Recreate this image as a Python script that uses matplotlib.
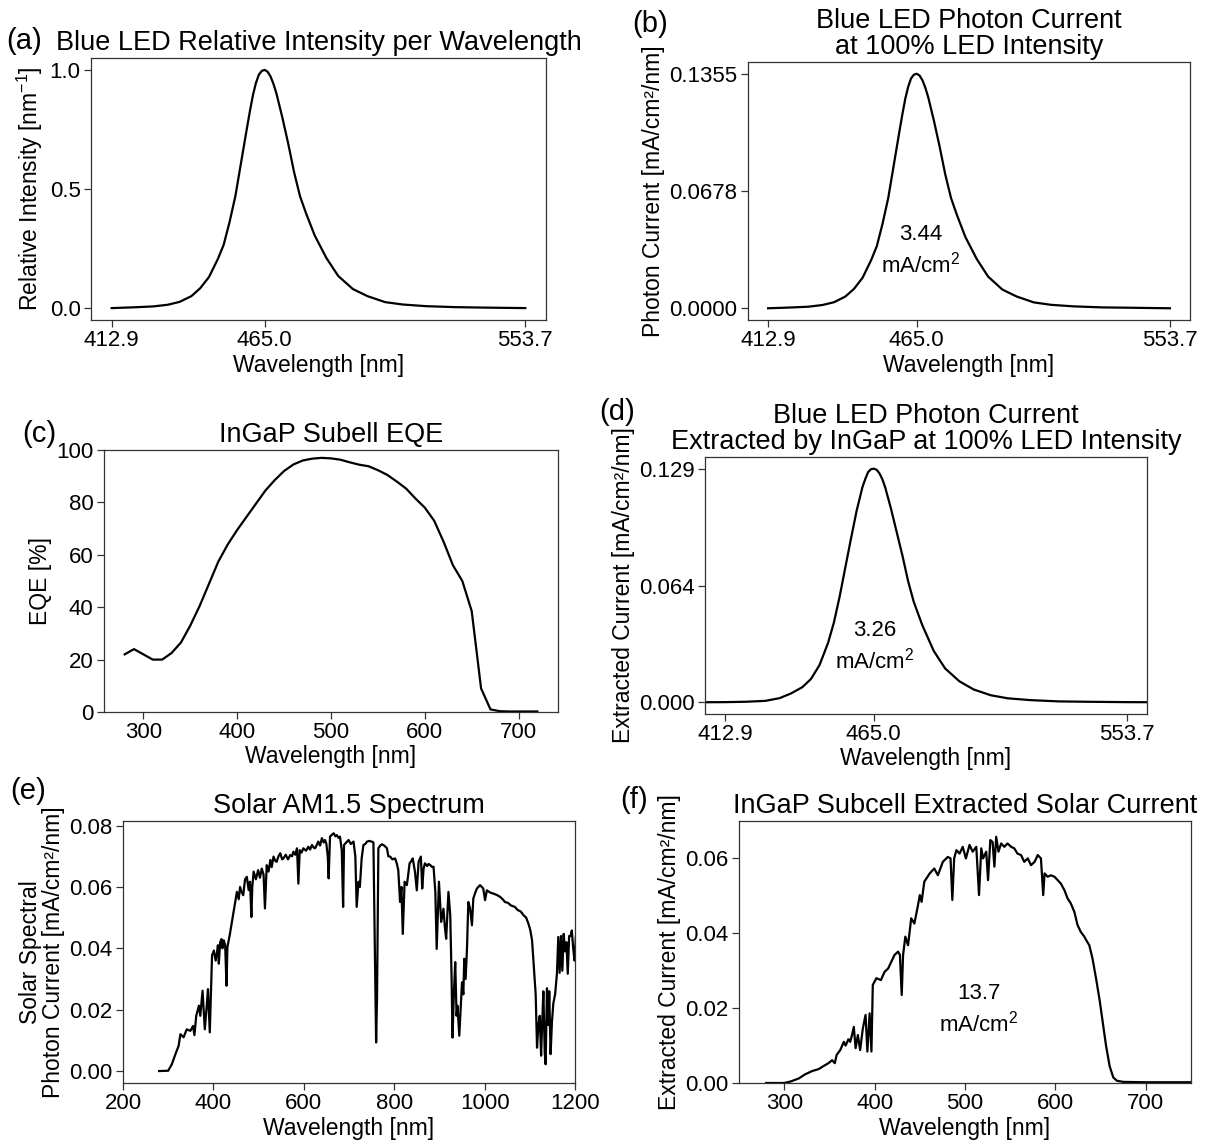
import matplotlib
matplotlib.use("Agg")
import matplotlib.pyplot as plt

plt.rcParams['font.family'] = ['Liberation Sans', 'DejaVu Sans']
plt.rcParams['mathtext.fontset'] = 'custom'
plt.rcParams['mathtext.rm'] = 'Liberation Sans'
plt.rcParams['mathtext.it'] = 'Liberation Sans'
plt.rcParams['axes.linewidth'] = 0.9

# ---------------- data ----------------
# (a)/(b) Blue LED spectrum
led_wl = [412.9, 420, 427, 432, 436, 440, 443, 446, 449, 451, 453, 455, 457, 459, 460, 461, 462,
          463, 464, 465, 466, 467, 468, 469, 470, 471, 473, 475, 477, 479, 482, 486, 490, 495,
          500, 506, 512, 520, 530, 540, 553.7]
led_rel = [0.000, 0.003, 0.007, 0.014, 0.026, 0.050, 0.083, 0.130, 0.205, 0.265, 0.360, 0.470,
           0.615, 0.760, 0.830, 0.895, 0.945, 0.980, 0.996, 1.000, 0.992, 0.972, 0.940, 0.900,
           0.850, 0.800, 0.690, 0.570, 0.470, 0.400, 0.305, 0.210, 0.135, 0.080, 0.050, 0.025,
           0.015, 0.008, 0.004, 0.002, 0.000]
led_photon = [0.0000, 0.0004, 0.0009, 0.0019, 0.0035, 0.0068, 0.0112, 0.0176, 0.0278, 0.0359,
              0.0488, 0.0637, 0.0833, 0.1030, 0.1125, 0.1213, 0.1280, 0.1328, 0.1350, 0.1355,
              0.1344, 0.1317, 0.1274, 0.1220, 0.1152, 0.1084, 0.0935, 0.0772, 0.0637, 0.0542,
              0.0413, 0.0285, 0.0183, 0.0108, 0.0068, 0.0034, 0.0020, 0.0011, 0.0005, 0.0003,
              0.0000]
led_ticks = [412.9, 465.0, 553.7]
led_ticklabels = ['412.9', '465.0', '553.7']
rel_yticks = [0.0, 0.5, 1.0]
rel_yticklabels = ['0.0', '0.5', '1.0']
photon_yticks = [0.0, 0.0678, 0.1355]
photon_yticklabels = ['0.0000', '0.0678', '0.1355']
photon_total = '3.44\nmA/cm$^2$'

# (c) InGaP EQE
eqe_wl = [280, 290, 300, 310, 320, 330, 340, 350, 360, 370, 380, 390, 400, 410, 420, 430, 440,
          450, 460, 470, 480, 490, 500, 510, 520, 530, 540, 550, 560, 570, 580, 590, 600, 610,
          620, 630, 640, 650, 660, 670, 680, 690, 700, 710, 720]
eqe_val = [22, 24, 22, 20, 20, 22.5, 26.5, 33, 40.5, 49, 57.5, 64, 69.5, 74.5, 79.5, 84.5, 88.5,
           92, 94.5, 96, 96.7, 97, 96.8, 96.3, 95.3, 94.4, 93.8, 92.3, 90.5, 88, 85.3, 81.5, 78,
           73, 65, 56, 50, 38.5, 9, 1, 0.3, 0.2, 0.2, 0.2, 0.2]

# (d) LED current extracted by InGaP
ext_wl = [400, 412.9, 420, 427, 432, 436, 440, 443, 446, 449, 451, 453, 455, 457, 459, 460, 461,
          462, 463, 464, 465, 466, 467, 468, 469, 470, 471, 473, 475, 477, 479, 482, 486, 490,
          495, 500, 506, 512, 520, 530, 540, 553.7, 570]
ext_val = [0.0000, 0.0001, 0.0003, 0.0008, 0.0023, 0.0049, 0.0084, 0.0129, 0.0206, 0.0329,
           0.0439, 0.0581, 0.0742, 0.0903, 0.1058, 0.1122, 0.1187, 0.1232, 0.1271, 0.1287,
           0.1290, 0.1284, 0.1264, 0.1232, 0.1187, 0.1129, 0.1071, 0.0942, 0.0813, 0.0671,
           0.0555, 0.0426, 0.0284, 0.0187, 0.0116, 0.0071, 0.0039, 0.0022, 0.0012, 0.0005,
           0.0003, 0.0001, 0.0000]
ext_yticks = [0.0, 0.0645, 0.129]
ext_yticklabels = ['0.000', '0.064', '0.129']
ext_total = '3.26\nmA/cm$^2$'

# (e) Solar AM1.5 photon current
sun_wl = [280, 300, 308, 316, 323, 327, 334, 341, 349, 355, 358, 362, 368, 371, 376, 381, 385,
          388, 392, 395, 397, 401, 405, 408, 410, 412, 415, 418, 420, 423, 426, 429, 431, 436,
          441, 446, 452, 456, 459, 462, 466, 470, 474, 478, 481, 484, 486, 489, 494, 499, 503,
          507, 511, 514, 518, 522, 526, 529, 533, 537, 540, 544, 548, 552, 555, 560, 565, 570,
          574, 577, 581, 585, 588, 591, 595, 599, 605, 610, 614, 618, 622, 625, 629, 632, 636,
          640, 644, 647, 650, 653, 655, 658, 662, 666, 670, 673, 677, 680, 684, 687, 689, 694,
          699, 704, 710, 714, 717, 721, 724, 728, 732, 736, 740, 745, 750, 754, 758, 760, 762,
          765, 769, 773, 778, 784, 787, 791, 796, 802, 806, 809, 813, 816, 819, 823, 828, 831,
          834, 838, 841, 846, 850, 854, 859, 862, 865, 868, 873, 876, 880, 884, 887, 891, 894,
          899, 904, 909, 912, 915, 920, 924, 927, 929, 932, 935, 938, 940, 944, 947, 950, 953,
          955, 958, 961, 964, 968, 972, 975, 979, 983, 990, 994, 997, 1001, 1005, 1012, 1020,
          1027, 1034, 1040, 1045, 1052, 1058, 1067, 1073, 1080, 1086, 1092, 1097, 1101, 1105,
          1109, 1113, 1116, 1119, 1122, 1125, 1127, 1130, 1133, 1135, 1138, 1141, 1143, 1146,
          1149, 1152, 1156, 1160, 1163, 1166, 1169, 1172, 1175, 1178, 1181, 1184, 1187, 1190,
          1193, 1196, 1199, 1202, 1206]
sun_val = [0.0000, 0.0001, 0.0022, 0.0055, 0.0082, 0.0120, 0.0110, 0.0136, 0.0131, 0.0147,
           0.0117, 0.0180, 0.0213, 0.0180, 0.0262, 0.0136, 0.0207, 0.0267, 0.0126, 0.0273,
           0.0377, 0.0393, 0.0360, 0.0387, 0.0410, 0.0350, 0.0420, 0.0430, 0.0400, 0.0426,
           0.0410, 0.0278, 0.0404, 0.0442, 0.0486, 0.0529, 0.0584, 0.0560, 0.0600, 0.0585,
           0.0573, 0.0625, 0.0633, 0.0590, 0.0617, 0.0502, 0.0600, 0.0650, 0.0625, 0.0655,
           0.0630, 0.0660, 0.0640, 0.0530, 0.0671, 0.0650, 0.0688, 0.0665, 0.0699, 0.0685,
           0.0682, 0.0700, 0.0710, 0.0690, 0.0693, 0.0705, 0.0690, 0.0704, 0.0700, 0.0715,
           0.0705, 0.0726, 0.0611, 0.0720, 0.0712, 0.0726, 0.0718, 0.0731, 0.0722, 0.0737,
           0.0728, 0.0726, 0.0738, 0.0748, 0.0735, 0.0759, 0.0745, 0.0753, 0.0740, 0.0700,
           0.0628, 0.0764, 0.0770, 0.0775, 0.0765, 0.0769, 0.0760, 0.0764, 0.0720, 0.0535,
           0.0737, 0.0745, 0.0753, 0.0740, 0.0748, 0.0700, 0.0535, 0.0617, 0.0600, 0.0693,
           0.0737, 0.0740, 0.0748, 0.0750, 0.0748, 0.0745, 0.0300, 0.0093, 0.0235, 0.0726,
           0.0735, 0.0739, 0.0735, 0.0726, 0.0700, 0.0699, 0.0690, 0.0693, 0.0675, 0.0655,
           0.0551, 0.0600, 0.0447, 0.0617, 0.0606, 0.0640, 0.0677, 0.0685, 0.0693, 0.0649,
           0.0589, 0.0682, 0.0699, 0.0595, 0.0660, 0.0677, 0.0668, 0.0675, 0.0671, 0.0665,
           0.0666, 0.0584, 0.0398, 0.0617, 0.0486, 0.0529, 0.0470, 0.0431, 0.0584, 0.0508,
           0.0300, 0.0109, 0.0250, 0.0355, 0.0180, 0.0213, 0.0115, 0.0200, 0.0289, 0.0250,
           0.0366, 0.0300, 0.0398, 0.0551, 0.0529, 0.0475, 0.0562, 0.0580, 0.0595, 0.0606,
           0.0600, 0.0595, 0.0557, 0.0589, 0.0582, 0.0578, 0.0574, 0.0568, 0.0560, 0.0551,
           0.0548, 0.0540, 0.0535, 0.0525, 0.0520, 0.0508, 0.0500, 0.0480, 0.0460, 0.0426,
           0.0340, 0.0250, 0.0076, 0.0150, 0.0180, 0.0050, 0.0140, 0.0260, 0.0060, 0.0022,
           0.0270, 0.0150, 0.0260, 0.0055, 0.0160, 0.0220, 0.0250, 0.0317, 0.0437, 0.0320,
           0.0440, 0.0327, 0.0447, 0.0390, 0.0420, 0.0317, 0.0440, 0.0440, 0.0458, 0.0400,
           0.0360, 0.0440, 0.0450]

# (f) InGaP extracted solar current
cell_wl = [280, 300, 307, 316, 323, 331, 338, 344, 349, 353, 356, 358, 362, 366, 368, 371, 373,
           375, 377, 379, 381.5, 384, 387, 390, 392, 394.5, 396.5, 398, 402, 407, 411, 415,
           418.5, 422, 426, 428, 430, 431.5, 434, 437, 440.5, 444, 448, 450, 452, 455, 461, 466,
           470, 475.5, 481, 484, 486, 488, 490.5, 494, 497.5, 501, 505, 508.5, 512.5, 515.5,
           518, 520, 523.5, 525.5, 528, 530.5, 532.5, 534.5, 537, 540, 543.5, 547, 551, 554.5,
           558, 562, 565.5, 569.5, 573, 577, 580.5, 584, 586.5, 588, 591.5, 595, 599, 602.5,
           606, 610, 613.5, 617, 621, 624.5, 628, 632, 634, 637.5, 641, 645, 649, 652.5, 656,
           660, 664, 668, 675, 700, 720, 750]
cell_val = [0.0000, 0.0000, 0.0004, 0.0012, 0.0023, 0.0032, 0.0037, 0.0046, 0.0053, 0.0061,
            0.0053, 0.0075, 0.0088, 0.0110, 0.0100, 0.0117, 0.0110, 0.0128, 0.0150, 0.0093,
            0.0128, 0.0088, 0.0146, 0.0182, 0.0084, 0.0186, 0.0084, 0.0262, 0.0280, 0.0275,
            0.0297, 0.0306, 0.0324, 0.0342, 0.0351, 0.0342, 0.0235, 0.0342, 0.0391, 0.0368,
            0.0440, 0.0426, 0.0475, 0.0502, 0.0484, 0.0538, 0.0560, 0.0573, 0.0555, 0.0591,
            0.0604, 0.0600, 0.0489, 0.0600, 0.0622, 0.0613, 0.0631, 0.0600, 0.0636, 0.0618,
            0.0631, 0.0502, 0.0627, 0.0600, 0.0618, 0.0542, 0.0649, 0.0644, 0.0578, 0.0658,
            0.0618, 0.0640, 0.0631, 0.0640, 0.0631, 0.0627, 0.0613, 0.0609, 0.0591, 0.0600,
            0.0582, 0.0591, 0.0609, 0.0600, 0.0502, 0.0560, 0.0551, 0.0555, 0.0551, 0.0542,
            0.0533, 0.0515, 0.0493, 0.0480, 0.0457, 0.0422, 0.0404, 0.0391, 0.0382, 0.0368,
            0.0333, 0.0279, 0.0220, 0.0160, 0.0100, 0.0045, 0.0015, 0.0006, 0.0003, 0.0002,
            0.0002, 0.0002]
cell_total = '13.7\nmA/cm$^2$'

# ---------------- figure ----------------
W, H = 1208, 1144
fig = plt.figure(figsize=(W / 100, H / 100), dpi=100)

def add_ax(x0, y0, x1, y1):
    return fig.add_axes([x0 / W, 1 - y1 / H, (x1 - x0) / W, (y1 - y0) / H])

TS, LS, KS, PS = 19.5, 16.5, 16, 21
LW = 1.6
spine_c = '#333333'

def style(ax):
    ax.tick_params(labelsize=KS, length=5, width=0.9, color=spine_c, pad=2.5)
    for s in ax.spines.values():
        s.set_color(spine_c)

def labels(ax, xl, yl, **kw):
    ax.set_xlabel(xl, fontsize=LS, labelpad=1.5)
    ax.set_ylabel(yl, fontsize=LS, labelpad=3, **kw)

led_margin = 0.05 * (led_wl[-1] - led_wl[0])
led_xlim = (led_wl[0] - led_margin, led_wl[-1] + led_margin)

# (a)
ax = add_ax(91, 58, 546, 320)
ax.plot(led_wl, led_rel, color='black', lw=LW)
ax.set_xticks(led_ticks, led_ticklabels)
ax.set_yticks(rel_yticks, rel_yticklabels)
ax.set_xlim(*led_xlim)
ax.set_title('Blue LED Relative Intensity per Wavelength', fontsize=TS)
labels(ax, 'Wavelength [nm]', 'Relative Intensity [nm$^{-1}$]')
style(ax)

# (b)
ax = add_ax(748, 62, 1190, 320)
ax.plot(led_wl, led_photon, color='black', lw=LW)
ax.set_xticks(led_ticks, led_ticklabels)
ax.set_yticks(photon_yticks, photon_yticklabels)
ax.set_xlim(*led_xlim)
ax.set_title('Blue LED Photon Current\nat 100% LED Intensity', fontsize=TS, linespacing=1.0)
labels(ax, 'Wavelength [nm]', 'Photon Current [mA/cm²/nm]')
ax.text(466.3, 0.0334, photon_total, ha='center', va='center', fontsize=KS, linespacing=1.3)
style(ax)

# (c)
ax = add_ax(104, 450, 558, 712)
ax.plot(eqe_wl, eqe_val, color='black', lw=LW)
ax.set_ylim(0, 100)
ax.set_title('InGaP Subell EQE', fontsize=TS)
labels(ax, 'Wavelength [nm]', 'EQE [%]')
style(ax)

# (d)
ax = add_ax(705, 457, 1147, 714)
ax.plot(ext_wl, ext_val, color='black', lw=LW)
ax.set_xticks(led_ticks, led_ticklabels)
ax.set_yticks(ext_yticks, ext_yticklabels)
ax.set_xlim(*led_xlim)
ax.set_ylim(-0.00645, 0.13545)
ax.set_title('Blue LED Photon Current\nExtracted by InGaP at 100% LED Intensity', fontsize=TS,
             linespacing=1.0)
labels(ax, 'Wavelength [nm]', 'Extracted Current [mA/cm²/nm]')
ax.text(465.4, 0.0306, ext_total, ha='center', va='center', fontsize=KS, linespacing=1.3)
style(ax)

# (e)
ax = add_ax(123, 821, 575, 1083)
ax.plot(sun_wl, sun_val, color='black', lw=LW)
ax.set_xlim(200, 1200)
ax.set_ylim(-0.0039, 0.0815)
ax.set_yticks([0.0, 0.02, 0.04, 0.06, 0.08])
ax.set_title('Solar AM1.5 Spectrum', fontsize=TS)
labels(ax, 'Wavelength [nm]', 'Solar Spectral\nPhoton Current [mA/cm²/nm]', linespacing=1.0)
style(ax)

# (f)
ax = add_ax(739, 821, 1191, 1083)
ax.plot(cell_wl, cell_val, color='black', lw=LW)
ax.set_xlim(250, 750)
ax.set_ylim(0, 0.07)
ax.set_xticks([300, 400, 500, 600, 700])
ax.set_yticks([0.0, 0.02, 0.04, 0.06])
ax.set_title('InGaP Subcell Extracted Solar Current', fontsize=TS)
labels(ax, 'Wavelength [nm]', 'Extracted Current [mA/cm²/nm]')
ax.text(515, 0.0196, cell_total, ha='center', va='center', fontsize=KS, linespacing=1.3)
style(ax)

# panel letters
for lab, x, y in [('(a)', 6, 41), ('(b)', 632, 24), ('(c)', 22, 434),
                  ('(d)', 599, 412), ('(e)', 10, 791), ('(f)', 620, 800)]:
    fig.text(x / W, 1 - y / H, lab, fontsize=PS, ha='left', va='center')

fig.savefig('out.png', dpi=100)
